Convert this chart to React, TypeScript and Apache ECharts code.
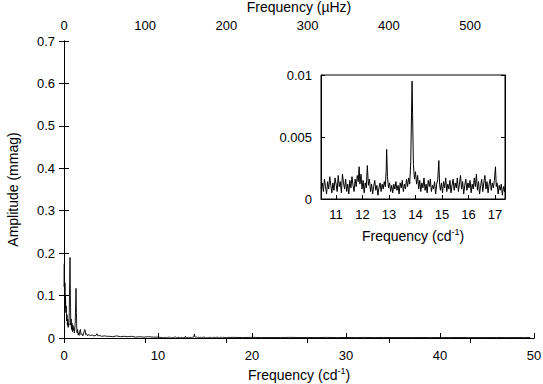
import React, { useEffect, useRef } from "react";
import * as echarts from "echarts";

// Main spectrum, low-frequency part [freq (cd^-1), amplitude (mmag)]
const lowFreqSpectrum: [number, number][] = [
  [0.0, 0.12], [0.03, 0.175], [0.07, 0.09], [0.1, 0.13], [0.13, 0.07], [0.16, 0.1],
  [0.2, 0.06], [0.24, 0.075], [0.28, 0.04], [0.32, 0.055], [0.36, 0.03], [0.4, 0.045],
  [0.44, 0.025], [0.48, 0.035], [0.52, 0.03], [0.56, 0.06], [0.6, 0.13], [0.64, 0.19],
  [0.68, 0.1], [0.72, 0.03], [0.76, 0.045], [0.8, 0.02], [0.85, 0.035], [0.9, 0.015],
  [0.95, 0.03], [1.0, 0.018], [1.05, 0.025], [1.1, 0.012], [1.15, 0.02], [1.2, 0.04],
  [1.25, 0.09], [1.28, 0.117], [1.32, 0.06], [1.36, 0.02], [1.4, 0.012], [1.45, 0.02],
  [1.5, 0.008], [1.55, 0.012], [1.6, 0.006], [1.7, 0.018], [1.75, 0.02], [1.8, 0.008],
  [1.9, 0.01], [2.0, 0.005], [2.1, 0.012], [2.2, 0.02], [2.25, 0.018], [2.3, 0.008],
  [2.4, 0.01], [2.5, 0.005], [2.6, 0.008], [2.8, 0.006], [3.0, 0.007], [3.2, 0.005],
  [3.4, 0.006], [3.5, 0.01], [3.6, 0.005], [3.8, 0.006], [4.0, 0.004], [4.3, 0.005],
  [4.6, 0.004],
];

const midFreqSpectrum: [number, number][] = [
  [4.8, 0.004], [5.2, 0.003], [5.6, 0.005], [6.0, 0.003], [6.4, 0.004], [6.8, 0.003],
  [7.2, 0.004], [7.6, 0.002], [8.0, 0.003], [8.5, 0.002], [9.0, 0.003], [9.5, 0.002],
  [10.0, 0.002],
];

// Zoomed region (also part of main spectrum)
const insetSpectrum: [number, number][] = [
  [10.44, 0.0009], [10.48, 0.0013], [10.52, 0.0006], [10.56, 0.0016], [10.6, 0.001],
  [10.64, 0.0004], [10.68, 0.0014], [10.72, 0.0008], [10.76, 0.0018], [10.8, 0.0011],
  [10.84, 0.0005], [10.88, 0.0013], [10.92, 0.0007], [10.96, 0.0017], [11.0, 0.0012],
  [11.04, 0.0006], [11.08, 0.0019], [11.12, 0.001], [11.16, 0.0014], [11.2, 0.0005],
  [11.24, 0.002], [11.28, 0.0013], [11.32, 0.0008], [11.36, 0.0016], [11.4, 0.0006],
  [11.44, 0.0012], [11.48, 0.0004], [11.52, 0.0015], [11.56, 0.0009], [11.6, 0.0018],
  [11.64, 0.0011], [11.68, 0.0006], [11.72, 0.0016], [11.76, 0.001], [11.8, 0.0019],
  [11.84, 0.0014], [11.87, 0.0026], [11.9, 0.0012], [11.94, 0.002], [11.98, 0.0008],
  [12.02, 0.0015], [12.06, 0.0005], [12.1, 0.0013], [12.14, 0.0009], [12.18, 0.0027],
  [12.22, 0.0011], [12.26, 0.0016], [12.3, 0.0006], [12.34, 0.0012], [12.38, 0.0004],
  [12.42, 0.001], [12.46, 0.0015], [12.5, 0.0007], [12.54, 0.0011], [12.58, 0.0003],
  [12.62, 0.0009], [12.66, 0.0013], [12.7, 0.0006], [12.74, 0.0012], [12.78, 0.0008],
  [12.82, 0.0014], [12.86, 0.001], [12.89, 0.0022], [12.91, 0.004], [12.94, 0.0018],
  [12.98, 0.0009], [13.02, 0.0013], [13.06, 0.0006], [13.1, 0.0011], [13.14, 0.0005],
  [13.18, 0.0012], [13.22, 0.0008], [13.26, 0.0014], [13.3, 0.0007], [13.34, 0.0011],
  [13.38, 0.0004], [13.42, 0.0013], [13.46, 0.0009], [13.5, 0.0015], [13.54, 0.0006],
  [13.58, 0.0012], [13.62, 0.0008], [13.66, 0.0016], [13.7, 0.001], [13.74, 0.0017],
  [13.78, 0.0012], [13.82, 0.003], [13.85, 0.007], [13.87, 0.0095], [13.89, 0.0068],
  [13.92, 0.0028], [13.96, 0.0016], [14.0, 0.0022], [14.04, 0.0012], [14.08, 0.0019],
  [14.12, 0.0008], [14.16, 0.0015], [14.2, 0.0006], [14.24, 0.0013], [14.28, 0.0009],
  [14.32, 0.0017], [14.36, 0.0007], [14.4, 0.0012], [14.44, 0.0005], [14.48, 0.0015],
  [14.52, 0.001], [14.56, 0.0016], [14.6, 0.0006], [14.64, 0.0011], [14.68, 0.0008],
  [14.72, 0.0014], [14.76, 0.0004], [14.8, 0.0012], [14.84, 0.0016], [14.88, 0.0031],
  [14.91, 0.0012], [14.94, 0.0007], [14.98, 0.0013], [15.02, 0.0005], [15.06, 0.0014],
  [15.1, 0.0009], [15.14, 0.0017], [15.18, 0.0006], [15.22, 0.0012], [15.26, 0.0008],
  [15.3, 0.0015], [15.34, 0.0005], [15.38, 0.0011], [15.42, 0.0016], [15.46, 0.0007],
  [15.5, 0.0013], [15.54, 0.0009], [15.58, 0.0017], [15.62, 0.0006], [15.66, 0.0012],
  [15.7, 0.0019], [15.74, 0.0008], [15.78, 0.0014], [15.82, 0.0004], [15.86, 0.0011],
  [15.9, 0.0016], [15.94, 0.0007], [15.98, 0.0013], [16.02, 0.0009], [16.06, 0.0015],
  [16.1, 0.0005], [16.14, 0.0012], [16.18, 0.0008], [16.22, 0.0017], [16.26, 0.001],
  [16.3, 0.002], [16.34, 0.0007], [16.38, 0.0014], [16.42, 0.0004], [16.46, 0.0011],
  [16.5, 0.0016], [16.54, 0.0006], [16.58, 0.0013], [16.62, 0.0019], [16.66, 0.0008],
  [16.7, 0.0014], [16.74, 0.0005], [16.78, 0.0012], [16.82, 0.0016], [16.86, 0.0007],
  [16.9, 0.0013], [16.94, 0.0009], [16.98, 0.0015], [17.02, 0.0026], [17.05, 0.001],
  [17.08, 0.0013], [17.12, 0.0004], [17.16, 0.0011], [17.2, 0.0007], [17.24, 0.0012],
  [17.28, 0.0003], [17.32, 0.001], [17.36, 0.0006], [17.4, 0.0013],
];

const highFreqSpectrum: [number, number][] = [
  [18, 0.0015], [19, 0.001], [20, 0.0015], [21, 0.001], [22, 0.0012], [23, 0.001],
  [24, 0.0015], [25, 0.001], [26, 0.0012], [27, 0.001], [28, 0.0014], [29, 0.001],
  [30, 0.0012], [31, 0.001], [32, 0.0013], [33, 0.001], [34, 0.0012], [35, 0.001],
  [36, 0.0011], [37, 0.001], [38, 0.0012], [39, 0.001], [40, 0.0011], [41, 0.001],
  [42, 0.0012], [43, 0.001], [44, 0.0011], [45, 0.001], [46, 0.0012], [47, 0.001],
  [48, 0.0011], [49, 0.001], [49.6, 0.0012],
];

const mainXTicks = [0, 10, 20, 30, 40, 50];
const topMicroHzTicks = [0, 100, 200, 300, 400, 500];
const insetXTicks = [11, 12, 13, 14, 15, 16, 17];
const CD_TO_MICROHZ = 11.574;

const FONT = "Liberation Sans";

export default function App() {
  const ref = useRef<HTMLDivElement>(null);
  useEffect(() => {
    if (!ref.current) return;
    const chart = echarts.init(ref.current, null, { renderer: "svg" });
    const txt = { color: "#000", fontFamily: FONT, fontSize: 13 };
    const ttl = { color: "#000", fontFamily: FONT, fontSize: 14 };
    const axisLine = { show: true, lineStyle: { color: "#000", width: 1 } };
    const tick = (len: number) => ({ show: true, inside: true, length: len, lineStyle: { color: "#000", width: 1 } });
    const supRich = {
      sup: { fontSize: 9, fontFamily: FONT, color: "#000", verticalAlign: "top", lineHeight: 17 },
    };
    const mainData = [...lowFreqSpectrum, ...midFreqSpectrum, ...insetSpectrum, ...highFreqSpectrum];
    chart.setOption({
      animation: false,
      backgroundColor: "#fff",
      textStyle: { fontFamily: FONT },
      grid: [
        { left: 64, top: 41, width: 470, height: 297, show: false, containLabel: false, outerBoundsMode: "none" },
        {
          left: 321, top: 75, width: 184, height: 124, show: true, containLabel: false, outerBoundsMode: "none",
          backgroundColor: "#fff", borderColor: "#000", borderWidth: 1, z: 5,
        },
      ],
      xAxis: [
        {
          gridIndex: 0, type: "value", position: "bottom", min: 0, max: 50, interval: 10,
          axisLine, axisTick: tick(5), splitLine: { show: false },
          axisLabel: { ...txt, margin: 11, customValues: mainXTicks },
          name: "Frequency (cd{sup|-1})", nameLocation: "middle", nameGap: 26,
          nameTextStyle: { ...ttl, rich: supRich },
        },
        {
          gridIndex: 0, type: "value", position: "top", min: 0, max: 50 * CD_TO_MICROHZ,
          axisLine, axisTick: { ...tick(5), customValues: topMicroHzTicks }, splitLine: { show: false },
          axisLabel: { ...txt, margin: 9, customValues: topMicroHzTicks },
          name: "Frequency (\u00b5Hz)", nameLocation: "middle", nameGap: 25,
          nameTextStyle: { ...ttl },
        },
        {
          gridIndex: 1, type: "value", position: "bottom", min: 10.43, max: 17.38,
          axisLine, axisTick: { ...tick(4), customValues: insetXTicks }, splitLine: { show: false },
          axisLabel: { ...txt, margin: 9, customValues: insetXTicks },
          name: "Frequency (cd{sup|-1})", nameLocation: "middle", nameGap: 28,
          nameTextStyle: { ...ttl, rich: supRich }, z: 6,
        },
      ],
      yAxis: [
        {
          gridIndex: 0, type: "value", position: "left", min: 0, max: 0.7, interval: 0.1,
          axisLine, axisTick: tick(5), splitLine: { show: false },
          axisLabel: { ...txt, margin: 9 },
          name: "Amplitude (mmag)", nameLocation: "middle", nameGap: 44,
          nameTextStyle: { ...ttl },
        },
        {
          gridIndex: 0, type: "value", position: "right", min: 0, max: 0.7, interval: 0.1,
          axisLine, axisTick: tick(5), splitLine: { show: false }, axisLabel: { show: false },
        },
        {
          gridIndex: 1, type: "value", position: "left", min: 0, max: 0.01, interval: 0.005,
          axisLine, axisTick: tick(4), splitLine: { show: false },
          axisLabel: { ...txt, margin: 9 }, z: 6,
        },
        {
          gridIndex: 1, type: "value", position: "right", min: 0, max: 0.01, interval: 0.005,
          axisLine, axisTick: tick(4), splitLine: { show: false }, axisLabel: { show: false }, z: 6,
        },
      ],
      series: [
        {
          type: "line", xAxisIndex: 0, yAxisIndex: 0, data: mainData, showSymbol: false,
          lineStyle: { color: "#000", width: 0.9 }, silent: true,
        },
        {
          type: "line", xAxisIndex: 2, yAxisIndex: 2, data: insetSpectrum, showSymbol: false,
          lineStyle: { color: "#000", width: 1 }, silent: true, z: 7, clip: true,
        },
      ],
    });
    return () => chart.dispose();
  }, []);
  return <div ref={ref} style={{ position: "absolute", left: 0, top: 0, width: 543, height: 384 }} />;
}
